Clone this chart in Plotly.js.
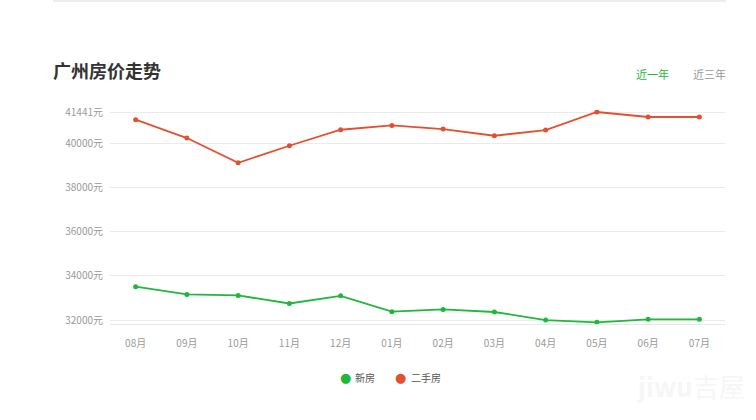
<!DOCTYPE html>
<html>
<head>
<meta charset="utf-8">
<script src="https://cdn.plot.ly/plotly-3.0.1.min.js"></script>
<style>
html,body{margin:0;padding:0;background:#fff;}
#chart{width:756px;height:420px;}
</style>
</head>
<body>
<div id="chart"></div>
<script>
const months = ['08月','09月','10月','11月','12月','01月','02月','03月','04月','05月','06月','07月'];
const newHome = [33515, 33160, 33115, 32750, 33100, 32380, 32480, 32365, 32000, 31895, 32030, 32030];
const secondHand = [41094, 40260, 39136, 39910, 40636, 40830, 40668, 40364, 40623, 41441, 41214, 41214];
const yTickVals = [32000, 34000, 36000, 38000, 40000, 41441];
const yTickText = ['32000元','34000元','36000元','38000元','40000元','41441元'];
const seriesNames = ['新房','二手房'];
const colors = ['#1db83c','#e4502f'];

const font = '"Noto Sans CJK SC", "Noto Sans", sans-serif';

const traces = [
  {x: months, y: newHome, name: seriesNames[0], type:'scatter', mode:'lines+markers',
   line:{color:colors[0], width:1.8}, marker:{color:colors[0], size:5}, showlegend:false, hoverinfo:'skip'},
  {x: months, y: secondHand, name: seriesNames[1], type:'scatter', mode:'lines+markers',
   line:{color:colors[1], width:1.8}, marker:{color:colors[1], size:5}, showlegend:false, hoverinfo:'skip'}
];

// plot area in pixels: x 110..725, y 110..324
const PL = 110, PR = 725, PT = 110, PB = 324;
const px = v => (v - PL) / (PR - PL);
const py = v => (PB - v) / (PB - PT);

const legendY = 377;
const legendAnn = [
  {text:'●', x:px(345), y:py(legendY), color:colors[0], size:13},
  {text:'●', x:px(400), y:py(legendY), color:colors[1], size:13}
].map(a => ({text:a.text, xref:'paper', yref:'paper', x:a.x, y:a.y, xanchor:'center', yanchor:'middle',
  showarrow:false, font:{size:a.size, color:a.color, family:'DejaVu Sans'}}));
const legendText = [
  {text:seriesNames[0], x:px(353)},
  {text:seriesNames[1], x:px(409)}
].map(a => ({text:a.text, xref:'paper', yref:'paper', x:a.x, y:py(legendY), xanchor:'left', yanchor:'middle',
  showarrow:false, font:{size:10, color:'#555', family:font}}));

const layout = {
  width:756, height:420,
  margin:{l:PL, r:756-PR, t:PT, b:420-PB},
  paper_bgcolor:'#fff', plot_bgcolor:'#fff',
  font:{family:font, size:11, color:'#999'},
  xaxis:{
    type:'category', range:[-0.5, 11.5], showgrid:false, zeroline:false,
    showline:true, linecolor:'#e8e8e8', linewidth:1,
    ticks:'', tickfont:{size:10, color:'#999', family:font}, ticklabelstandoff:10
  },
  yaxis:{
    range:[31820, 41532], tickmode:'array', tickvals:yTickVals, ticktext:yTickText,
    showgrid:true, gridcolor:'#ebebeb', gridwidth:1, zeroline:false, showline:false,
    ticks:'', tickfont:{size:10, color:'#999', family:font}, ticklabelstandoff:6
  },
  showlegend:false,
  annotations:[
    {text:'<b>广州房价走势</b>', xref:'paper', yref:'paper', x:px(51), xanchor:'left',
     y:py(70), yanchor:'middle', showarrow:false, font:{size:18, color:'#333', family:font}},
    {text:'近一年', xref:'paper', yref:'paper', x:px(652), xanchor:'center',
     y:py(74), yanchor:'middle', showarrow:false, font:{size:11, color:'#1db83c', family:font}},
    {text:'近三年', xref:'paper', yref:'paper', x:px(709), xanchor:'center',
     y:py(74), yanchor:'middle', showarrow:false, font:{size:11, color:'#999', family:font}},
    {text:'<b>jiwu</b>吉屋', xref:'paper', yref:'paper', x:px(690), xanchor:'center',
     y:py(385), yanchor:'middle', showarrow:false, font:{size:26, color:'#f6f6f6', family:font}}
  ].concat(legendAnn, legendText),
  shapes:[
    {type:'line', xref:'paper', yref:'paper', x0:px(53), x1:px(726),
     y0:py(1), y1:py(1), line:{color:'#eeeeee', width:2}}
  ]
};

Plotly.newPlot('chart', traces, layout, {displayModeBar:false, staticPlot:true});
</script>
</body>
</html>
